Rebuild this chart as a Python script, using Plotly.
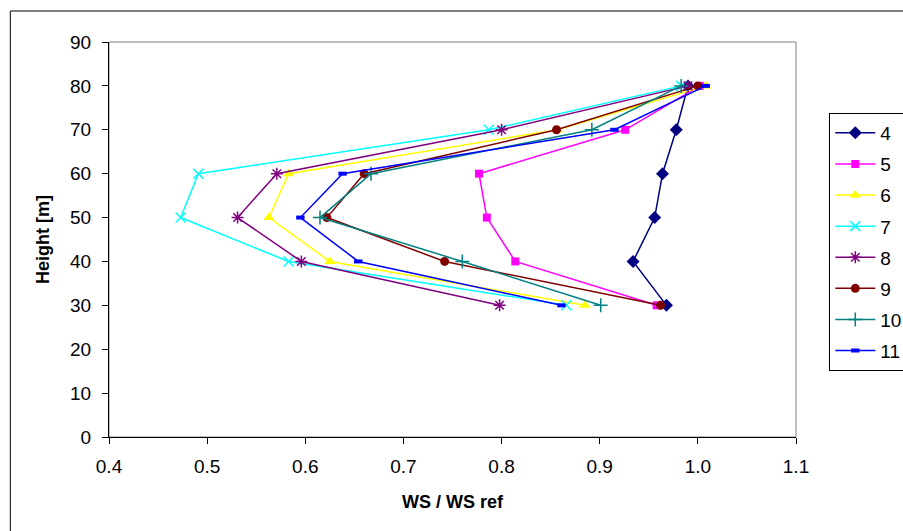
import plotly.graph_objects as go

# Measurement heights [m]
heights = [30, 40, 50, 60, 70, 80]

# Normalised wind speed profiles (WS / WS ref), one list per series
ws_4 = [0.968, 0.934, 0.956, 0.964, 0.978, 0.990]
ws_5 = [0.958, 0.814, 0.785, 0.777, 0.926, 1.002]
ws_6 = [0.885, 0.625, 0.563, 0.583, 0.857, 1.008]
ws_7 = [0.866, 0.583, 0.473, 0.491, 0.787, 0.983]
ws_8 = [0.798, 0.596, 0.531, 0.571, 0.800, 0.990]
ws_9 = [0.962, 0.742, 0.622, 0.660, 0.856, 1.000]
ws_10 = [0.901, 0.760, 0.615, 0.667, 0.892, 0.983]
ws_11 = [0.861, 0.654, 0.595, 0.638, 0.915, 1.008]

series_names = ["4", "5", "6", "7", "8", "9", "10", "11"]
series_values = [ws_4, ws_5, ws_6, ws_7, ws_8, ws_9, ws_10, ws_11]

x_ticks = [0.4, 0.5, 0.6, 0.7, 0.8, 0.9, 1.0, 1.1]
x_tick_text = ["0.4", "0.5", "0.6", "0.7", "0.8", "0.9", "1.0", "1.1"]
y_ticks = [0, 10, 20, 30, 40, 50, 60, 70, 80, 90]

styles = {
    "4": dict(color="#000080", symbol="diamond", size=10),
    "5": dict(color="#FF00FF", symbol="square", size=8),
    "6": dict(color="#FFFF00", symbol="triangle-up", size=10),
    "7": dict(color="#00FFFF", symbol="x-thin", size=10),
    "8": dict(color="#800080", symbol="asterisk", size=10),
    "9": dict(color="#800000", symbol="circle", size=9),
    "10": dict(color="#008080", symbol="cross-thin", size=10),
    "11": dict(color="#0000FF", symbol="line-ew", size=6),
}

FONT = "Liberation Sans, Arial, sans-serif"

fig = go.Figure()
for name, vals in zip(series_names, series_values):
    st = styles[name]
    marker = dict(symbol=st["symbol"], size=st["size"], color=st["color"],
                  line=dict(width=0, color=st["color"]))
    if st["symbol"] in ("x-thin", "asterisk", "cross-thin"):
        marker["line"] = dict(width=1.5, color=st["color"])
    if st["symbol"] == "line-ew":
        marker["line"] = dict(width=4, color=st["color"])
    fig.add_trace(go.Scatter(
        x=vals, y=heights, name=name, mode="lines+markers",
        line=dict(color=st["color"], width=1.5),
        marker=marker, legendgroup=name,
    ))

L, R, T, B = 108.7, 107.3, 42, 94

fig.update_layout(
    width=903, height=531,
    margin=dict(l=L, r=R, t=T, b=B, autoexpand=False),
    paper_bgcolor="white", plot_bgcolor="white",
    font=dict(family=FONT, size=19, color="black"),
    showlegend=True,
    legend=dict(
        x=(829 - L) / (903 - L - R), y=(531 - B - 113) / (531 - T - B),
        xanchor="left", yanchor="top",
        bordercolor="black", borderwidth=1, bgcolor="white",
        font=dict(family=FONT, size=19),
        tracegroupgap=3.4, itemwidth=40,
    ),
    xaxis=dict(
        range=[0.4, 1.1], tickvals=x_ticks, ticktext=x_tick_text,
        showgrid=False, zeroline=False,
        showline=True, linecolor="black", linewidth=1,
        ticks="outside", ticklen=6, tickcolor="black", tickwidth=1,
        tickfont=dict(family=FONT, size=19), ticklabelstandoff=6,
        title=dict(text="<b>WS / WS ref</b>", font=dict(family=FONT, size=18), standoff=19),
        automargin=False,
    ),
    yaxis=dict(
        range=[0, 90], tickvals=y_ticks,
        showgrid=False, zeroline=False,
        showline=True, linecolor="black", linewidth=1,
        ticks="outside", ticklen=6, tickcolor="black", tickwidth=1,
        tickfont=dict(family=FONT, size=19), ticklabelstandoff=7,
        title=dict(text="<b>Height [m]</b>", font=dict(family=FONT, size=18), standoff=15),
        automargin=False,
    ),
    shapes=[
        # grey plot-area border
        dict(type="rect", xref="paper", yref="paper", x0=0, x1=1, y0=0, y1=1,
             line=dict(color="#808080", width=1), layer="below"),
        # outer chart frame
        dict(type="rect", xref="paper", yref="paper",
             x0=(10 - L) / (903 - L - R), x1=2.0,
             y0=-1.0, y1=(531 - B - 11) / (531 - T - B),
             line=dict(color="black", width=1), layer="below"),
    ],
)

fig.write_html("out.html")
